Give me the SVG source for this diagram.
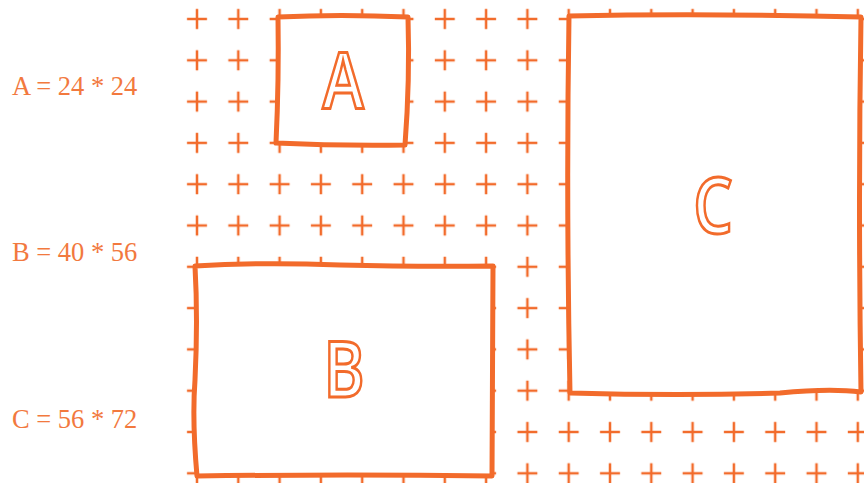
<svg xmlns="http://www.w3.org/2000/svg" width="864" height="483" viewBox="0 0 864 483">
<style>
.lbl{font-family:"Liberation Serif","DejaVu Serif",serif;font-size:26.5px;fill:#f2793e}
.box{fill:#fff;stroke:#f26b2b;stroke-width:5;stroke-linejoin:round}
.let{font-family:"Open Sans","DejaVu Sans",sans-serif;font-weight:600;font-size:78px;fill:#fff;stroke:#f26b2b;stroke-width:3;text-anchor:middle}
</style>
<defs>
<pattern id="grid" patternUnits="userSpaceOnUse" x="176.35" y="-1.65" width="41.3" height="41.3">
<path d="M10.65,20.65H30.65M20.65,10.65V30.65" stroke="#f26b2b" stroke-width="2.5" fill="none"/>
</pattern>
</defs>
<rect id="plus-grid" x="180" y="0" width="684" height="483" fill="url(#grid)"/>
<g id="labels">
<text class="lbl" x="12" y="95">A = 24 * 24</text>
<text class="lbl" x="12" y="261">B = 40 * 56</text>
<text class="lbl" x="12" y="428">C = 56 * 72</text>
</g>
<g id="nodeA">
<path class="box" d="M278,17 Q340,14 408,17 Q410,80 405,145 Q340,146 276,143 Q279,80 278,17 Z"/>
<text class="let" transform="translate(343,108) scale(0.8,1)">A</text>
</g>
<g id="nodeB">
<path class="box" d="M195,266 Q260,262 340,265 Q420,267 493,266 L492,476 Q350,474 197,476 Q192,420 195,380 Q198,320 195,266 Z"/>
<text class="let" transform="translate(344,397) scale(0.8,1)">B</text>
</g>
<g id="nodeC">
<path class="box" d="M569,16 Q700,13 861,17 Q858,200 861,392 Q830,388 780,393 Q680,396 570,393 Q566,200 569,16 Z"/>
<text class="let" transform="translate(713,233) scale(0.8,1)">C</text>
</g>
<g id="connectors"></g>
</svg>
